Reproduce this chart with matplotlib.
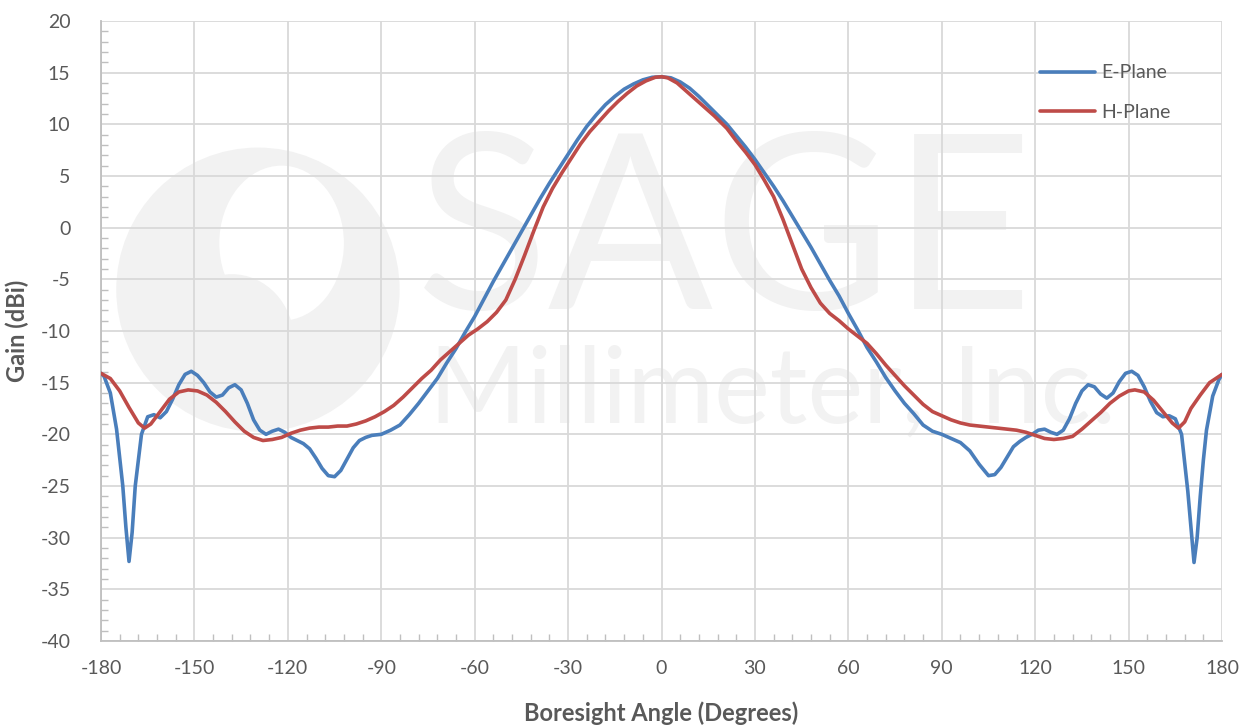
import matplotlib.pyplot as plt
from matplotlib.patches import Ellipse
from matplotlib.ticker import MultipleLocator

# E-plane (blue) readings: angle (deg), gain (dBi)
e_angle = [-180, -179, -177, -175, -173, -172, -171, -170, -169, -167, -165, -163, -161, -159,
           -157, -155, -153, -151, -149, -147, -145, -143, -141, -139, -137, -135, -133, -131,
           -129, -127, -125, -123, -121, -119, -117, -115, -113, -111, -109, -107, -105, -103,
           -101, -99, -97, -95, -93, -90, -87, -84, -81, -78, -75, -72, -69, -66, -63, -60,
           -57, -54, -51, -48, -45, -42, -39, -36, -33, -30, -27, -24, -21, -18, -15, -12,
           -9, -6, -3, 0,
           3, 6, 9, 12, 15, 18, 21, 24, 27, 30, 33, 36, 39, 42, 45, 48, 51, 54, 57, 60,
           63, 66, 69, 72, 75, 78, 81, 84, 87, 90, 93, 96, 99, 102, 105, 107, 109, 111, 113,
           115, 117, 119, 121, 123, 125, 127, 129, 131, 133, 135, 137, 139, 141, 143, 145,
           147, 149, 151, 153, 155, 157, 159, 161, 163, 165, 167, 169, 170, 171, 172, 173,
           174, 175, 177, 179, 180]
e_gain = [-14.1, -14.4, -16.0, -19.5, -25.0, -29.0, -32.3, -29.5, -25.0, -20.0, -18.3, -18.1,
          -18.4, -17.8, -16.6, -15.2, -14.2, -13.9, -14.3, -15.0, -15.9, -16.4, -16.2, -15.5,
          -15.2, -15.7, -17.0, -18.6, -19.6, -20.0, -19.7, -19.5, -19.8, -20.3, -20.6, -20.9,
          -21.4, -22.3, -23.3, -24.0, -24.1, -23.5, -22.4, -21.3, -20.6, -20.3, -20.1, -20.0,
          -19.6, -19.1, -18.1, -17.0, -15.8, -14.6, -13.1, -11.7, -10.1, -8.6, -6.9, -5.2,
          -3.6, -2.0, -0.4, 1.2, 2.8, 4.3, 5.7, 7.1, 8.5, 9.8, 10.9, 11.9, 12.7, 13.4,
          13.9, 14.3, 14.55, 14.6,
          14.5, 14.1, 13.5, 12.7, 11.8, 10.9, 10.0, 8.9, 7.8, 6.6, 5.3, 4.0, 2.6, 1.1, -0.4,
          -1.9, -3.5, -5.1, -6.6, -8.3, -9.9, -11.6, -13.0, -14.5, -15.8, -17.0, -18.0, -19.1,
          -19.7, -20.0, -20.4, -20.8, -21.6, -22.9, -24.0, -23.9, -23.2, -22.2, -21.2, -20.7,
          -20.3, -20.0, -19.6, -19.5, -19.8, -20.0, -19.6, -18.5, -17.0, -15.8, -15.2, -15.4,
          -16.1, -16.5, -16.0, -14.9, -14.1, -13.9, -14.3, -15.4, -16.8, -17.9, -18.3, -18.2,
          -18.5, -20.0, -25.5, -29.0, -32.4, -30.0, -26.0, -22.5, -19.6, -16.3, -14.7, -14.2]

# H-plane (red) readings
h_angle = [-180, -177, -174, -171, -168, -166, -164, -161, -158, -155, -152, -149, -146, -143,
           -140, -137, -134, -131, -128, -125, -122, -119, -116, -113, -110, -107, -104, -101,
           -98, -95, -92, -89, -86, -83, -80, -77, -74, -71, -68, -65, -62, -59, -56, -53,
           -50, -47, -44, -41, -38, -35, -32, -29, -26, -23, -20, -17, -14, -11, -8, -5, -2, 0,
           2, 5, 8, 11, 14, 17, 21, 24, 27, 30, 33, 36, 39, 42, 45, 48, 51, 54, 57, 60, 63,
           66, 69, 72, 75, 78, 81, 84, 87, 90, 93, 96, 99, 102, 105, 108, 111, 114, 117, 120,
           123, 126, 129, 132, 135, 138, 141, 144, 147, 150, 152, 155, 158, 161, 164, 166,
           168, 170, 173, 176, 180]
h_gain = [-14.1, -14.6, -15.8, -17.4, -18.9, -19.4, -19.0, -17.8, -16.6, -15.9, -15.7, -15.8,
          -16.2, -16.9, -17.8, -18.8, -19.7, -20.3, -20.6, -20.5, -20.3, -19.9, -19.6, -19.4,
          -19.3, -19.3, -19.2, -19.2, -19.0, -18.7, -18.3, -17.8, -17.2, -16.4, -15.5, -14.6,
          -13.8, -12.8, -12.0, -11.2, -10.4, -9.8, -9.1, -8.2, -7.0, -5.0, -2.7, -0.3, 2.0,
          3.8, 5.3, 6.7, 8.1, 9.3, 10.3, 11.3, 12.2, 13.0, 13.7, 14.2, 14.55, 14.6,
          14.5, 14.0, 13.2, 12.4, 11.6, 10.8, 9.6, 8.4, 7.3, 6.1, 4.6, 3.0, 0.8, -1.6, -4.0,
          -5.8, -7.3, -8.3, -9.0, -9.8, -10.5, -11.2, -12.2, -13.3, -14.3, -15.3, -16.2,
          -17.1, -17.8, -18.2, -18.6, -18.9, -19.1, -19.2, -19.3, -19.4, -19.5, -19.6, -19.8,
          -20.1, -20.4, -20.5, -20.4, -20.2, -19.5, -18.7, -17.9, -17.0, -16.3, -15.8, -15.7,
          -15.9, -16.7, -17.8, -18.9, -19.4, -18.8, -17.5, -16.2, -15.0, -14.2]

x_ticks = list(range(-180, 181, 30))
y_ticks = list(range(-40, 21, 5))

plt.rcParams['font.family'] = ['Lato', 'DejaVu Sans']
plt.rcParams['axes.unicode_minus'] = False

fig = plt.figure(figsize=(12.53, 7.28), dpi=100)
ax = fig.add_axes([0.0806, 0.1195, 0.8947, 0.8517])

# faint company watermark behind the data
wm = '#f2f2f2'
ax.add_patch(Ellipse((-129.6, -6.0), 91, 27.5, facecolor=wm, edgecolor='none', zorder=0))
ax.add_patch(Ellipse((-122, -1.5), 40, 15, facecolor='white', edgecolor='none', zorder=0.1))
ax.add_patch(Ellipse((-138, -11), 40, 13, facecolor=wm, edgecolor='none', zorder=0.2))
ax.text(20.4, -1.2, 'SAGE', fontsize=176, color=wm, ha='center', va='center', zorder=0)
ax.text(35.5, -16.0, 'Millimeter, Inc.', fontsize=76, color=wm, ha='center', va='center',
        zorder=0)

ax.plot(e_angle, e_gain, color='#4a7ebb', lw=2.6, label='E-Plane', zorder=3,
        solid_joinstyle='round', solid_capstyle='round')
ax.plot(h_angle, h_gain, color='#be4b48', lw=2.6, label='H-Plane', zorder=3,
        solid_joinstyle='round', solid_capstyle='round')

ax.set_xlim(-180, 180)
ax.set_ylim(-40, 20)
ax.set_xticks(x_ticks)
ax.set_yticks(y_ticks)
ax.xaxis.set_minor_locator(MultipleLocator(6))
ax.yaxis.set_minor_locator(MultipleLocator(1))
ax.grid(True, which='major', color='#d9d9d9', lw=1.3, zorder=1)
ax.set_axisbelow(True)

for s in ['top', 'right']:
    ax.spines[s].set_visible(False)
for s in ['left', 'bottom']:
    ax.spines[s].set_color('#bfbfbf')
    ax.spines[s].set_linewidth(1.3)

ax.tick_params(which='major', length=0, labelsize=14, labelcolor='#595959')
ax.tick_params(axis='y', which='major', pad=22)
ax.tick_params(axis='x', which='major', pad=14)
ax.tick_params(which='minor', direction='in', length=5, width=1, color='#bfbfbf')

ax.set_xlabel('Boresight Angle (Degrees)', fontsize=17, fontweight='bold', color='#595959',
              labelpad=17)
ax.set_ylabel('Gain (dBi)', fontsize=17, fontweight='bold', color='#595959', labelpad=8)

leg = ax.legend(loc='upper left', bbox_to_anchor=(0.838, 0.93), frameon=False, fontsize=14,
                handlelength=2.8, handletextpad=0.35, labelspacing=1.15, borderpad=0,
                borderaxespad=0)
for t in leg.get_texts():
    t.set_color('#595959')

fig.savefig('out.png', dpi=100)
plt.close(fig)
